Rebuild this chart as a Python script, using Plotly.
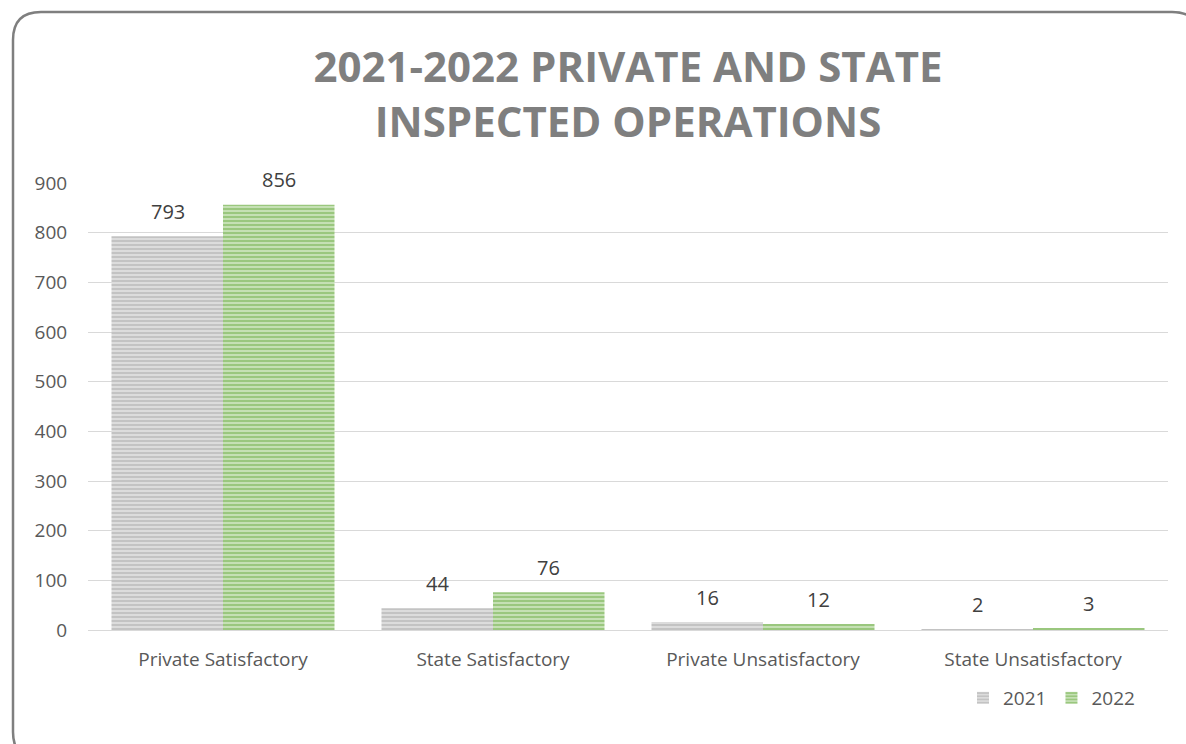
import plotly.graph_objects as go

# Inspection counts by operation type
categories = ["Private Satisfactory", "State Satisfactory",
              "Private Unsatisfactory", "State Unsatisfactory"]
series_names = ["2021", "2022"]
values_2021 = [793, 44, 16, 2]
values_2022 = [856, 76, 12, 3]
y_ticks = [0, 100, 200, 300, 400, 500, 600, 700, 800, 900]

W, H = 1186, 744
ML, MR, MT, MB = 88, 18, 183, 114
PW, PH = W - ML - MR, H - MT - MB

FONT = "Open Sans"
styles = {
    "2021": dict(light="#dcdcdc", dark="#a9a9a9"),
    "2022": dict(light="#c5e0b4", dark="#70ad47"),
}

fig = go.Figure()
for name, vals in zip(series_names, [values_2021, values_2022]):
    st = styles[name]
    fig.add_trace(go.Bar(
        x=categories, y=vals, name=name,
        marker=dict(
            color=st["light"],
            line=dict(width=0),
            pattern=dict(shape="-", fgcolor=st["dark"], size=4,
                         solidity=0.5, fillmode="overlay"),
        ),
        offsetgroup=name,
        hoverinfo="x+y+name",
    ))

# value labels above bars
for i, (name, vals) in enumerate(zip(series_names, [values_2021, values_2022])):
    for cat, v in zip(categories, vals):
        fig.add_annotation(
            x=cat, y=v, text=str(v), showarrow=False,
            xref="x", yref="y", yanchor="middle",
            yshift=25, xshift=(-55.5 if i == 0 else 55.5),
            font=dict(family=FONT, size=20, color="#404040"),
        )

# rounded frame around the chart
def px(x):
    return (x - ML) / PW

def py(y):
    return (H - MB - y) / PH

x0, y0, x1, y1, r = 13, 12, 1200, 760, 28
path = (f"M {px(x0 + r)},{py(y0)} L {px(x1 - r)},{py(y0)} "
        f"Q {px(x1)},{py(y0)} {px(x1)},{py(y0 + r)} "
        f"L {px(x1)},{py(y1 - r)} Q {px(x1)},{py(y1)} {px(x1 - r)},{py(y1)} "
        f"L {px(x0 + r)},{py(y1)} Q {px(x0)},{py(y1)} {px(x0)},{py(y1 - r)} "
        f"L {px(x0)},{py(y0 + r)} Q {px(x0)},{py(y0)} {px(x0 + r)},{py(y0)} Z")
fig.add_shape(type="path", path=path, xref="paper", yref="paper",
              line=dict(color="#7f7f7f", width=2.5), layer="above")

fig.update_layout(
    width=W, height=H,
    margin=dict(l=ML, r=MR, t=MT, b=MB, autoexpand=False),
    paper_bgcolor="white", plot_bgcolor="white",
    title=dict(
        text="2021-2022 PRIVATE AND STATE<br>INSPECTED OPERATIONS",
        x=0.5, xref="paper", xanchor="center",
        y=1 - 82 / H, yanchor="middle", yref="container",
        font=dict(family=FONT, size=42, color="#7f7f7f", weight="bold"),
    ),
    barmode="group", bargap=0.174, bargroupgap=0,
    xaxis=dict(
        showline=True, linecolor="#d9d9d9", linewidth=1,
        ticks="outside", ticklen=12, tickcolor="rgba(0,0,0,0)",
        tickfont=dict(family=FONT, size=19, color="#595959"),
        showgrid=False,
    ),
    yaxis=dict(
        range=[0, 900], tickvals=y_ticks, showline=False,
        gridcolor="#d9d9d9", gridwidth=1, zeroline=False,
        tickfont=dict(family=FONT, size=19, color="#595959"),
        ticks="outside", ticklen=16, tickcolor="rgba(0,0,0,0)",
    ),
    legend=dict(
        orientation="h", x=(963 - ML) / PW, xanchor="left",
        y=-(698 - (H - MB)) / PH, yanchor="middle",
        font=dict(family=FONT, size=19, color="#595959"),
        itemwidth=30, traceorder="normal", bgcolor="rgba(0,0,0,0)",
        tracegroupgap=0, entrywidth=0,
    ),
    showlegend=True,
)

fig.write_html("out.html")
